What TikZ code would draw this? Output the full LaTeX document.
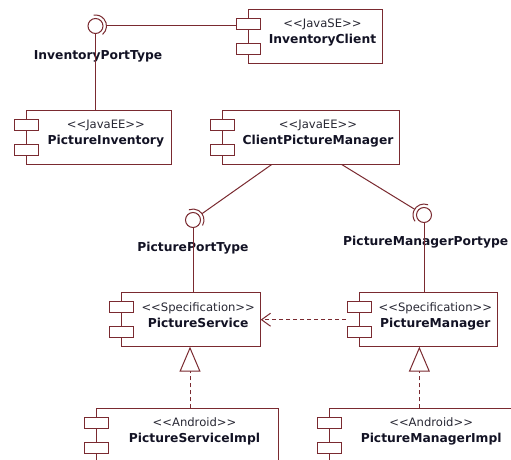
\documentclass[tikz,border=0pt]{standalone}
\usepackage{fontspec}
\setmainfont{DejaVu Sans}[Ligatures=TeXOff]
\usetikzlibrary{arrows.meta}
\definecolor{umlline}{RGB}{122,42,48}
\definecolor{umltext}{RGB}{18,18,36}
\definecolor{umlstereo}{RGB}{40,40,52}

% component box with its two port tabs, stereotype and name
\newcommand\umlcomp[7]{%
  \node[compbox, minimum width={(#4-#2)*1pt}, minimum height={(#5-#3)*1pt}]
    (#1) at ({(#2+#4)/2},{(#3+#5)/2}) {};
  \node[porttab, anchor=north] (#1-p1) at ([yshift=-9pt]#1.north west) {};
  \node[porttab, anchor=north] (#1-p2) at ([yshift=-34pt]#1.north west) {};
  \node[stereo, anchor=base] (#1-s) at ([xshift=7pt,yshift=-18.5pt]#1.north) {#6};
  \node[ctitle, anchor=base] (#1-t) at ([xshift=7pt,yshift=-34.5pt]#1.north) {#7};
}

\begin{document}
\begin{tikzpicture}[x=1pt,y=-1pt,
  line width=1pt,
  compbox/.style={draw=umlline, rectangle, inner sep=0pt, outer sep=0pt, fill=white},
  porttab/.style={draw=umlline, rectangle, fill=white, minimum width=24pt,
    minimum height=11pt, inner sep=0pt, outer sep=0pt},
  stereo/.style={inner sep=0pt, text=umlstereo, font=\fontsize{11.6}{13}\selectfont},
  ctitle/.style={inner sep=0pt, text=umltext, font=\fontsize{12.3}{14}\selectfont\bfseries},
  iface/.style={draw=umlline, circle, minimum size=15pt, inner sep=0pt, outer sep=0pt},
  socket/.style={circle, minimum size=22pt, inner sep=0pt, outer sep=0pt},
  sockarc/.style={draw=umlline, line width=1pt, y=1pt},
  ifacelabel/.style={inner sep=0pt, text=umltext, font=\fontsize{12.3}{14}\selectfont\bfseries},
  conn/.style={draw=umlline, line width=1pt},
  depend/.style={draw=umlline, line width=1pt, dash pattern=on 4pt off 3pt,
    -{Straight Barb[length=9pt,width=13pt]}},
  realize/.style={draw=umlline, line width=1pt, dash pattern=on 4pt off 3pt,
    -{Triangle[open, length=25pt, width=21pt, fill=white]}},
]
\useasboundingbox (0,0) rectangle (511,460);
\fill[white] (0,0) rectangle (511,460);
\clip (0,0) rectangle (511,460);

% components
\umlcomp{ic}{248.3}{9.3}{382.7}{63.3}{<<JavaSE>>}{InventoryClient}
\umlcomp{pinv}{26.7}{110}{171}{164.5}{<<JavaEE>>}{PictureInventory}
\umlcomp{cpm}{222.7}{110}{399.3}{164.5}{<<JavaEE>>}{ClientPictureManager}
\umlcomp{ps}{121.7}{292.7}{260.7}{346.7}{<<Specification>>}{PictureService}
\umlcomp{pm}{359}{292.7}{497.7}{346.7}{<<Specification>>}{PictureManager}
\umlcomp{psi}{96.7}{408.3}{278.3}{462.3}{<<Android>>}{PictureServiceImpl}
\umlcomp{pmi}{329.3}{408.3}{519}{462.3}{<<Android>>}{PictureManagerImpl}

% provided interfaces (ball) with required sockets
\node[iface] (ipt) at (95.5,26) {};
\node[socket] (ipt-s) at (95.5,26) {};
\draw[sockarc] ([shift={(-50:11pt)}]ipt.center) arc[start angle=-50, end angle=100, radius=11pt];
\node[ifacelabel, anchor=base] (ipt-l) at (98,59.5) {InventoryPortType};

\node[iface] (ppt) at (193,220) {};
\node[socket] (ppt-s) at (193,220) {};
\draw[sockarc] ([shift={(-30:11pt)}]ppt.center) arc[start angle=-30, end angle=112, radius=11pt];
\node[ifacelabel, anchor=base] (ppt-l) at (193,251) {PicturePortType};

\node[iface] (pmpt) at (424,215) {};
\node[socket] (pmpt-s) at (424,215) {};
\draw[sockarc] ([shift={(68:11pt)}]pmpt.center) arc[start angle=68, end angle=215, radius=11pt];
\node[ifacelabel, anchor=base] (pmpt-l) at (425.7,245) {PictureManagerPortype};

% assembly connectors
\draw[conn] (ipt-s) -- (ipt-s -| ic-p1.west);
\draw[conn] (ipt) -- (ipt |- pinv.north);
\draw[conn] ([xshift=-39.3pt]cpm.south) -- (ppt-s);
\draw[conn] ([xshift=30.7pt]cpm.south) -- (pmpt-s);
\draw[conn] (ppt) -- (ppt |- ps.north);
\draw[conn] (pmpt) -- (pmpt |- pm.north);

% dependency between specifications
\draw[depend] ([xshift=-13pt]pm.west) -- (ps.east);

% realizations
\draw[realize] ([xshift=-1.2pt]ps.south |- psi.north) -- ([xshift=-1.2pt]ps.south);
\draw[realize] ([xshift=-9pt]pm.south |- pmi.north) -- ([xshift=-9pt]pm.south);
\end{tikzpicture}
\end{document}
